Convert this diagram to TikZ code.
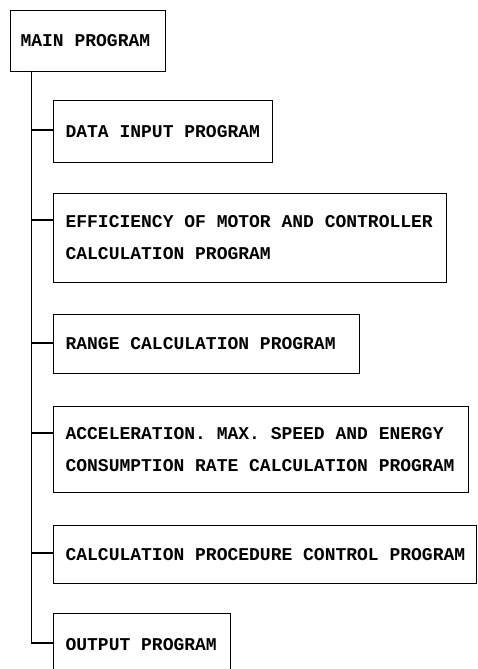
\documentclass[tikz,border=0pt]{standalone}
\usepackage{fontspec}
\setmonofont{Liberation Mono}
\newcommand\wsp{\hspace*{0.6em}}
\begin{document}
\begin{tikzpicture}[x=1pt,y=1pt,
  line width=1.1pt,
  prog/.style={draw, line width=1.1pt, anchor=north west, inner xsep=12pt, inner ysep=0pt,
    align=left, font=\ttfamily\bfseries\fontsize{18}{32}\selectfont},
  link/.style={line width=1.1pt}]
\useasboundingbox (0,0) rectangle (477,-669);
\node[prog, inner xsep=10pt, text width=135pt, minimum height=61pt] (main) at (10,-10) {\mbox{MAIN\wsp PROGRAM}};
\node[prog, text width=195pt, minimum height=62pt] (b1) at (53,-100) {\mbox{DATA\wsp INPUT\wsp PROGRAM}};
\node[prog, text width=369pt, minimum height=89pt] (b2) at (53,-193) {\mbox{EFFICIENCY\wsp OF\wsp MOTOR\wsp AND\wsp CONTROLLER}\\\mbox{CALCULATION\wsp PROGRAM}};
\node[prog, text width=282pt, minimum height=59pt] (b3) at (53,-314) {\mbox{RANGE\wsp CALCULATION\wsp PROGRAM}};
\node[prog, text width=391pt, minimum height=86pt] (b4) at (53,-406) {\mbox{ACCELERATION.\wsp MAX.\wsp SPEED\wsp AND\wsp ENERGY}\\\mbox{CONSUMPTION\wsp RATE\wsp CALCULATION\wsp PROGRAM}};
\node[prog, text width=399pt, minimum height=58pt] (b5) at (53,-525) {\mbox{CALCULATION\wsp PROCEDURE\wsp CONTROL\wsp PROGRAM}};
\node[prog, text width=153pt, minimum height=62pt] (b6) at (53,-613) {\mbox{OUTPUT\wsp PROGRAM}};
\coordinate (t0) at (31.6,-71);
\coordinate (t1) at (31.6,-130);
\coordinate (t2) at (31.6,-220);
\coordinate (t3) at (31.6,-343);
\coordinate (t4) at (31.6,-433);
\coordinate (t5) at (31.6,-553);
\coordinate (t6) at (31.6,-643);
\draw[link] (t0) -- (t6) -- (b6.west |- t6);
\foreach \i in {1,...,5} { \draw[link] (t\i) -- (b\i.west |- t\i); }
\end{tikzpicture}
\end{document}
